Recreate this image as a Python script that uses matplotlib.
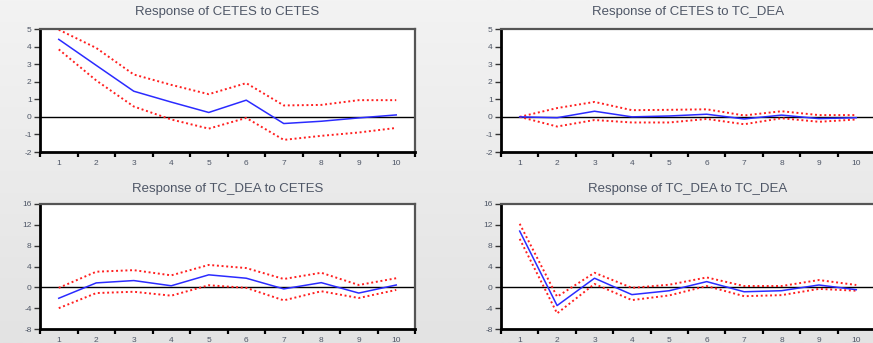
import numpy as np
import matplotlib
matplotlib.use("Agg")
import matplotlib.pyplot as plt
from matplotlib.colors import LinearSegmentedColormap

plt.rcParams["font.family"] = ["Liberation Sans", "DejaVu Sans"]

# Impulse-response horizon
periods = list(range(1, 11))

# Response of CETES to CETES
cetes_cetes = [4.41, 2.93, 1.46, 0.84, 0.25, 0.95, -0.38, -0.25, -0.06, 0.11]
cetes_cetes_hi = [4.96, 3.92, 2.41, 1.82, 1.29, 1.92, 0.65, 0.68, 0.95, 0.95]
cetes_cetes_lo = [3.84, 2.07, 0.59, -0.15, -0.67, -0.06, -1.31, -1.08, -0.89, -0.63]

# Response of CETES to TC_DEA
cetes_tc = [0.0, -0.05, 0.32, 0.0, 0.05, 0.15, -0.12, 0.10, -0.10, -0.05]
cetes_tc_hi = [0.0, 0.50, 0.85, 0.38, 0.40, 0.43, 0.08, 0.32, 0.10, 0.10]
cetes_tc_lo = [0.0, -0.55, -0.18, -0.32, -0.32, -0.12, -0.42, -0.08, -0.28, -0.15]

# Response of TC_DEA to CETES
tc_cetes = [-2.1, 0.85, 1.3, 0.3, 2.4, 1.75, -0.3, 0.9, -1.1, 0.45]
tc_cetes_hi = [-0.1, 3.0, 3.3, 2.3, 4.3, 3.7, 1.6, 2.8, 0.45, 1.75]
tc_cetes_lo = [-4.0, -1.1, -0.85, -1.6, 0.4, -0.1, -2.5, -0.75, -2.05, -0.5]

# Response of TC_DEA to TC_DEA
tc_tc = [10.8, -3.5, 1.75, -1.4, -0.65, 1.1, -0.85, -0.65, 0.45, -0.45]
tc_tc_hi = [12.2, -1.8, 2.8, -0.1, 0.5, 1.9, 0.25, 0.25, 1.4, 0.45]
tc_tc_lo = [9.3, -5.0, 0.65, -2.45, -1.55, 0.25, -1.7, -1.5, -0.3, -0.65]

titles = ["Response of CETES to CETES", "Response of CETES to TC_DEA",
          "Response of TC_DEA to CETES", "Response of TC_DEA to TC_DEA"]
yticks_top = [-2, -1, 0, 1, 2, 3, 4, 5]
yticks_bottom = [-8, -4, 0, 4, 8, 12, 16]

W, H = 873, 343
fig = plt.figure(figsize=(W / 100, H / 100), dpi=100)

# soft grey backdrop
bg = fig.add_axes([0, 0, 1, 1], zorder=-5)
grad = np.linspace(0, 1, 256).reshape(-1, 1)
cmap = LinearSegmentedColormap.from_list("bg", ["#f3f3f3", "#e3e3e3"])
bg.imshow(grad, aspect="auto", cmap=cmap, extent=[0, 1, 0, 1], origin="upper")
bg.axis("off")

TEXT_C = "#4e5666"


def panel(px_left, px_top, px_w, px_h, title, title_gap, mid, hi, lo, ylim, yticks):
    ax = fig.add_axes([px_left / W, 1 - (px_top + px_h) / H, px_w / W, px_h / H])
    ax.set_facecolor("white")
    ax.axhline(0, color="black", lw=1.0, zorder=1)
    ax.plot(periods, hi, color="#ff1f1f", lw=1.4, ls=(0, (1, 1.4)), zorder=2)
    ax.plot(periods, lo, color="#ff1f1f", lw=1.4, ls=(0, (1, 1.4)), zorder=2)
    ax.plot(periods, mid, color="#2b2bff", lw=1.1, zorder=3)
    ax.set_xlim(0.5, 10.5)
    ax.set_ylim(*ylim)
    ax.set_xticks(periods)
    ax.set_xticklabels([str(p) for p in periods])
    ax.set_xticks(np.arange(0.5, 11, 1), minor=True)
    ax.tick_params(axis="x", which="major", length=0, pad=6, labelsize=6,
                   labelcolor=TEXT_C)
    ax.tick_params(axis="x", which="minor", length=3.5, width=1.6,
                   color="black", direction="out")
    ax.set_yticks(yticks)
    ax.set_yticklabels([str(v) for v in yticks])
    ax.tick_params(axis="y", length=4, width=1.0, color="#333333",
                   direction="out", labelsize=6, pad=2, labelcolor=TEXT_C)
    for side in ("left", "bottom"):
        ax.spines[side].set_color("black")
        ax.spines[side].set_linewidth(2.0)
    for side in ("top", "right"):
        ax.spines[side].set_color("#555555")
        ax.spines[side].set_linewidth(1.6)
    fig.text((px_left + px_w / 2) / W, 1 - (px_top - title_gap) / H, title,
             ha="center", va="center", fontsize=9.5, color=TEXT_C)
    return ax


panel(40, 29, 375, 123, titles[0], 17, cetes_cetes, cetes_cetes_hi, cetes_cetes_lo,
      (-2, 5), yticks_top)
panel(501, 29, 374, 123, titles[1], 17, cetes_tc, cetes_tc_hi, cetes_tc_lo,
      (-2, 5), yticks_top)
panel(40, 204, 375, 125, titles[2], 15, tc_cetes, tc_cetes_hi, tc_cetes_lo,
      (-8, 16), yticks_bottom)
panel(501, 204, 374, 125, titles[3], 15, tc_tc, tc_tc_hi, tc_tc_lo,
      (-8, 16), yticks_bottom)

fig.savefig("out.png", dpi=100)
